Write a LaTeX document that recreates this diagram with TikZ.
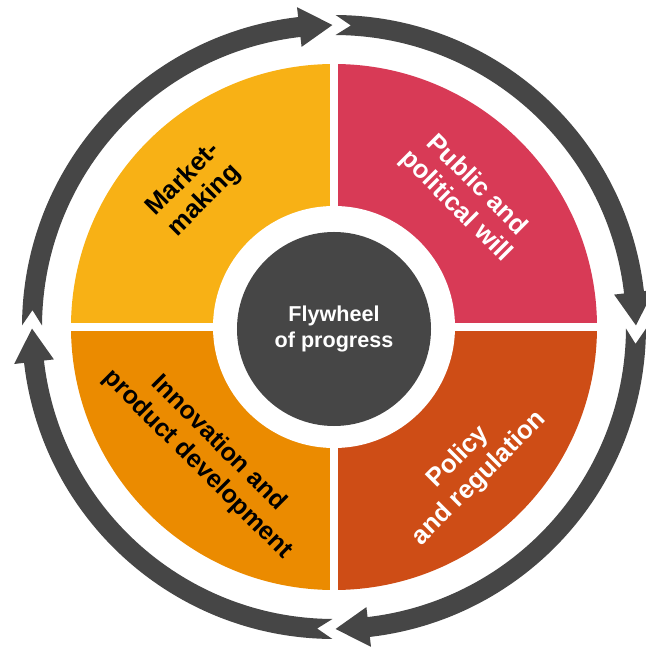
\documentclass[tikz,border=0pt]{standalone}
\usepackage{fontspec}
\setmainfont{Liberation Sans}
\definecolor{marketcol}{HTML}{F8B115}
\definecolor{publiccol}{HTML}{D83A56}
\definecolor{policycol}{HTML}{CE4D16}
\definecolor{innovcol}{HTML}{EB8B00}
\definecolor{wheelgray}{HTML}{464646}

\begin{document}
\begin{tikzpicture}[x=0.03cm,y=0.03cm,quad/.style={line width=0pt},turn/.style={fill=wheelgray},lbl/.style={font=\bfseries\fontsize{22}{25.5}\selectfont,align=center,inner sep=0pt},hub/.style={circle,fill=wheelgray,minimum size=5.82cm,inner sep=0pt,text=white,align=center,font=\bfseries\fontsize{18.4}{23}\selectfont}]
\useasboundingbox (-334,-323) rectangle (311,327);
\coordinate (O) at (0,0);
% quarters
\fill[quad,marketcol] (O) -- (180:263) arc[start angle=180,end angle=90,radius=263] -- cycle;
\fill[quad,publiccol] (O) -- (90:263) arc[start angle=90,end angle=0,radius=263] -- cycle;
\fill[quad,policycol] (O) -- (0:263) arc[start angle=0,end angle=-90,radius=263] -- cycle;
\fill[quad,innovcol] (O) -- (-90:263) arc[start angle=-90,end angle=-180,radius=263] -- cycle;
\draw[white,line width=7pt] (-270,0) -- (270,0);
\draw[white,line width=6.6pt] (0,-270) -- (0,270);
\fill[white] (O) circle[radius=121];
% arrows round the wheel
\foreach \s in {180,90,0,-90}{
  \pgfmathsetmacro\t{\s-90}
  \fill[turn] (\s-0.3:312) arc[start angle=\s-0.3,end angle=\t+6.6,radius=312] -- (\t+6.6:322) -- (\t+0.3:302) -- (\t+6.6:282) -- (\t+6.6:292) arc[start angle=\t+6.6,end angle=\s-0.3,radius=292] -- (\s-3.2:302) -- cycle;
}
\node[hub] (hub) at (0,-2) {Flywheel\\of progress};
\node[lbl,rotate=45] (market) at (-140,137) {Market-\\making};
\node[lbl,rotate=-45,text=white] (public) at (132,131) {Public and\\political will};
\node[lbl,rotate=45,text=white] (policy) at (135,-141) {Policy\\and regulation};
\node[lbl,rotate=-45,font=\bfseries\fontsize{21.5}{25.5}\selectfont] (innov) at (-126,-127) {Innovation and\\product development};
\end{tikzpicture}
\end{document}
